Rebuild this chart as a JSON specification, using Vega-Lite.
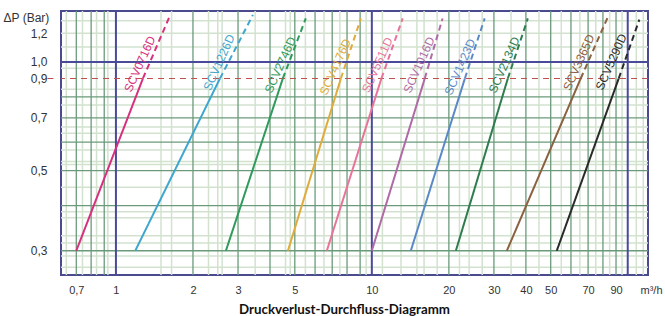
{
  "$schema": "https://vega.github.io/schema/vega-lite/v6.json",
  "autosize": "none",
  "width": 587,
  "height": 264,
  "padding": {"left": 61, "top": 11, "right": 17, "bottom": 41},
  "background": "white",
  "config": {
    "view": {"stroke": "#4a4a8e", "strokeWidth": 2},
    "font": "Liberation Sans"
  },
  "datasets": {
    "vgrid": [
      {"q": 0.64, "kind": "light"}, {"q": 0.74, "kind": "light"}, {"q": 0.84, "kind": "light"}, {"q": 0.93, "kind": "light"},
      {"q": 1.5, "kind": "light"}, {"q": 1.65, "kind": "light"}, {"q": 2.3, "kind": "light"}, {"q": 2.5, "kind": "light"},
      {"q": 2.6, "kind": "light"}, {"q": 3.5, "kind": "light"}, {"q": 4.6, "kind": "light"}, {"q": 4.8, "kind": "light"},
      {"q": 5.5, "kind": "light"}, {"q": 6.5, "kind": "light"}, {"q": 7.5, "kind": "light"}, {"q": 9.5, "kind": "light"},
      {"q": 11, "kind": "light"}, {"q": 13, "kind": "light"}, {"q": 15, "kind": "light"}, {"q": 16, "kind": "light"},
      {"q": 18, "kind": "light"}, {"q": 22, "kind": "light"}, {"q": 24, "kind": "light"}, {"q": 27, "kind": "light"},
      {"q": 35, "kind": "light"}, {"q": 45, "kind": "light"}, {"q": 55, "kind": "light"}, {"q": 65, "kind": "light"},
      {"q": 75, "kind": "light"}, {"q": 85, "kind": "light"}, {"q": 95, "kind": "light"}, {"q": 108, "kind": "light"},
      {"q": 115, "kind": "light"},
      {"q": 0.7, "kind": "dark"}, {"q": 0.8, "kind": "dark"}, {"q": 0.9, "kind": "dark"},
      {"q": 2, "kind": "dark"}, {"q": 3, "kind": "dark"}, {"q": 4, "kind": "dark"}, {"q": 5, "kind": "dark"},
      {"q": 6, "kind": "dark"}, {"q": 7, "kind": "dark"}, {"q": 8, "kind": "dark"}, {"q": 9, "kind": "dark"},
      {"q": 20, "kind": "dark"}, {"q": 30, "kind": "dark"}, {"q": 40, "kind": "dark"}, {"q": 50, "kind": "dark"},
      {"q": 60, "kind": "dark"}, {"q": 70, "kind": "dark"}, {"q": 80, "kind": "dark"}, {"q": 90, "kind": "dark"},
      {"q": 1, "kind": "blue"}, {"q": 10, "kind": "blue"}, {"q": 100, "kind": "blue"}
    ],
    "hgrid": [
      {"p": 0.27, "kind": "light"}, {"p": 0.29, "kind": "light"}, {"p": 0.315, "kind": "light"}, {"p": 0.33, "kind": "light"},
      {"p": 0.37, "kind": "light"}, {"p": 0.385, "kind": "light"}, {"p": 0.45, "kind": "light"}, {"p": 0.52, "kind": "light"},
      {"p": 0.53, "kind": "light"}, {"p": 0.57, "kind": "light"}, {"p": 0.635, "kind": "light"}, {"p": 0.66, "kind": "light"},
      {"p": 0.76, "kind": "light"}, {"p": 0.84, "kind": "light"}, {"p": 0.96, "kind": "light"}, {"p": 1.1, "kind": "light"},
      {"p": 1.2, "kind": "light"}, {"p": 1.3, "kind": "light"},
      {"p": 0.3, "kind": "dark"}, {"p": 0.4, "kind": "dark"}, {"p": 0.5, "kind": "dark"}, {"p": 0.6, "kind": "dark"},
      {"p": 0.7, "kind": "dark"}, {"p": 0.8, "kind": "dark"},
      {"p": 1.0, "kind": "blue"},
      {"p": 0.9, "kind": "red"}
    ],
    "curves": [
      {"model": "SCV0716D", "seg": "solid", "q": 0.70, "p": 0.3}, {"model": "SCV0716D", "seg": "solid", "q": 1.275, "p": 0.9},
      {"model": "SCV0716D", "seg": "dashed", "q": 1.275, "p": 0.9}, {"model": "SCV0716D", "seg": "dashed", "q": 1.63, "p": 1.35},
      {"model": "SCV1226D", "seg": "solid", "q": 1.19, "p": 0.3}, {"model": "SCV1226D", "seg": "solid", "q": 2.55, "p": 0.9},
      {"model": "SCV1226D", "seg": "dashed", "q": 2.55, "p": 0.9}, {"model": "SCV1226D", "seg": "dashed", "q": 3.43, "p": 1.35},
      {"model": "SCV2746D", "seg": "solid", "q": 2.69, "p": 0.3}, {"model": "SCV2746D", "seg": "solid", "q": 4.49, "p": 0.9},
      {"model": "SCV2746D", "seg": "dashed", "q": 4.49, "p": 0.9}, {"model": "SCV2746D", "seg": "dashed", "q": 5.52, "p": 1.32},
      {"model": "SCV4176D", "seg": "solid", "q": 4.70, "p": 0.3}, {"model": "SCV4176D", "seg": "solid", "q": 7.57, "p": 0.9},
      {"model": "SCV4176D", "seg": "dashed", "q": 7.57, "p": 0.9}, {"model": "SCV4176D", "seg": "dashed", "q": 9.06, "p": 1.32},
      {"model": "SCV5511D", "seg": "solid", "q": 6.67, "p": 0.3}, {"model": "SCV5511D", "seg": "solid", "q": 10.9, "p": 0.9},
      {"model": "SCV5511D", "seg": "dashed", "q": 10.9, "p": 0.9}, {"model": "SCV5511D", "seg": "dashed", "q": 13.2, "p": 1.32},
      {"model": "SCV1016D", "seg": "solid", "q": 10.0, "p": 0.3}, {"model": "SCV1016D", "seg": "solid", "q": 16.1, "p": 0.9},
      {"model": "SCV1016D", "seg": "dashed", "q": 16.1, "p": 0.9}, {"model": "SCV1016D", "seg": "dashed", "q": 18.9, "p": 1.32},
      {"model": "SCV1423D", "seg": "solid", "q": 14.2, "p": 0.3}, {"model": "SCV1423D", "seg": "solid", "q": 23.1, "p": 0.9},
      {"model": "SCV1423D", "seg": "dashed", "q": 23.1, "p": 0.9}, {"model": "SCV1423D", "seg": "dashed", "q": 27.6, "p": 1.32},
      {"model": "SCV2134D", "seg": "solid", "q": 21.3, "p": 0.3}, {"model": "SCV2134D", "seg": "solid", "q": 34.0, "p": 0.9},
      {"model": "SCV2134D", "seg": "dashed", "q": 34.0, "p": 0.9}, {"model": "SCV2134D", "seg": "dashed", "q": 40.7, "p": 1.32},
      {"model": "SCV3365D", "seg": "solid", "q": 33.7, "p": 0.3}, {"model": "SCV3365D", "seg": "solid", "q": 65.5, "p": 0.9},
      {"model": "SCV3365D", "seg": "dashed", "q": 65.5, "p": 0.9}, {"model": "SCV3365D", "seg": "dashed", "q": 84.3, "p": 1.35},
      {"model": "SCV5290D", "seg": "solid", "q": 52.8, "p": 0.3}, {"model": "SCV5290D", "seg": "solid", "q": 92.2, "p": 0.9},
      {"model": "SCV5290D", "seg": "dashed", "q": 92.2, "p": 0.9}, {"model": "SCV5290D", "seg": "dashed", "q": 111, "p": 1.31}
    ],
    "labels": [
      {"model": "SCV0716D", "q": 1.24, "p": 0.987},
      {"model": "SCV1226D", "q": 2.53, "p": 0.997},
      {"model": "SCV2746D", "q": 4.39, "p": 0.981},
      {"model": "SCV4176D", "q": 7.2, "p": 0.969},
      {"model": "SCV5511D", "q": 10.5, "p": 0.981},
      {"model": "SCV1016D", "q": 15.3, "p": 0.981},
      {"model": "SCV1423D", "q": 22.1, "p": 0.969},
      {"model": "SCV2134D", "q": 32.9, "p": 0.981},
      {"model": "SCV3365D", "q": 64.4, "p": 0.997},
      {"model": "SCV5290D", "q": 86.2, "p": 1.0}
    ]
  },
  "encoding": {
    "x": {
      "field": "q", "type": "quantitative",
      "scale": {"type": "log", "domain": [0.61, 120], "nice": false, "zero": false},
      "axis": {
        "values": [0.7, 1, 2, 3, 5, 10, 20, 30, 40, 50, 70, 90, 120],
        "labelExpr": "datum.value == 120 ? 'm³/h' : replace(toString(datum.value), '.', ',')",
        "grid": false, "domain": false, "ticks": false, "tickSize": 0,
        "labelPadding": 9, "labelFontSize": 11, "labelColor": "#333333",
        "labelFont": "Liberation Sans", "labelFlush": false, "labelOverlap": false, "labelBound": false,
        "labelOffset": {"condition": {"test": "datum.value == 120", "value": 3}, "value": 0},
        "title": "Druckverlust-Durchfluss-Diagramm",
        "titleFont": "Lato", "titleFontWeight": "bold", "titleFontSize": 13.3, "titleColor": "#111111",
        "titleX": 283, "titleY": 34, "titleAlign": "center", "titleBaseline": "middle", "titleAnchor": "start"
      }
    },
    "y": {
      "field": "p", "type": "quantitative",
      "scale": {"type": "log", "domain": [0.257, 1.384], "nice": false, "zero": false},
      "axis": {
        "values": [0.3, 0.5, 0.7, 0.9, 1.0, 1.2],
        "labelExpr": "replace(format(datum.value, '.1f'), '.', ',')",
        "grid": false, "domain": false, "ticks": true, "tickSize": 14,
        "tickColor": {"condition": {"test": "datum.value == 0.9", "value": "#c0504d"}, "value": "transparent"},
        "tickDash": [0, 8, 6],
        "tickWidth": 1.2,
        "labelPadding": 0, "labelFontSize": 12, "labelColor": "#333333",
        "labelFont": "Liberation Sans", "labelFlush": false, "labelOverlap": false,
        "title": "ΔP (Bar)", "titleAngle": 0, "titleFont": "Liberation Sans", "titleFontWeight": "normal",
        "titleFontSize": 12, "titleColor": "#333333",
        "titleX": -58, "titleY": 6, "titleAlign": "left", "titleBaseline": "middle", "titleAnchor": "start"
      }
    }
  },
  "layer": [
    {
      "data": {"name": "vgrid"},
      "transform": [{"filter": "datum.kind == 'light'"}],
      "mark": {"type": "rule", "color": "#d2e2cf", "strokeWidth": 1.5},
      "encoding": {"y": null}
    },
    {
      "data": {"name": "hgrid"},
      "transform": [{"filter": "datum.kind == 'light'"}],
      "mark": {"type": "rule", "color": "#d2e2cf", "strokeWidth": 1.5},
      "encoding": {"x": null}
    },
    {
      "data": {"name": "vgrid"},
      "transform": [{"filter": "datum.kind == 'dark'"}],
      "mark": {"type": "rule", "color": "#6b9a7b", "strokeWidth": 1.3},
      "encoding": {"y": null}
    },
    {
      "data": {"name": "hgrid"},
      "transform": [{"filter": "datum.kind == 'dark'"}],
      "mark": {"type": "rule", "color": "#6b9a7b", "strokeWidth": 1.3},
      "encoding": {"x": null}
    },
    {
      "data": {"name": "vgrid"},
      "transform": [{"filter": "datum.kind == 'blue'"}],
      "mark": {"type": "rule", "color": "#4a4a9a", "strokeWidth": 2},
      "encoding": {"y": null}
    },
    {
      "data": {"name": "hgrid"},
      "transform": [{"filter": "datum.kind == 'blue'"}],
      "mark": {"type": "rule", "color": "#4a4a9a", "strokeWidth": 2},
      "encoding": {"x": null}
    },
    {
      "data": {"name": "hgrid"},
      "transform": [{"filter": "datum.kind == 'red'"}],
      "mark": {"type": "rule", "color": "#c0504d", "strokeWidth": 1.2, "strokeDash": [6, 5]},
      "encoding": {"x": null}
    },
    {
      "data": {"name": "curves"},
      "mark": {"type": "line", "strokeWidth": 2},
      "encoding": {
        "color": {
          "field": "model", "type": "nominal", "legend": null,
          "scale": {
            "domain": ["SCV0716D", "SCV1226D", "SCV2746D", "SCV4176D", "SCV5511D", "SCV1016D", "SCV1423D", "SCV2134D", "SCV3365D", "SCV5290D"],
            "range": ["#d6307f", "#3ea6cf", "#2f9a5b", "#e0ab3a", "#e8749a", "#b06aa6", "#5b89c8", "#2f7d4e", "#8b6142", "#2a2a2a"]
          }
        },
        "strokeDash": {
          "field": "seg", "type": "nominal", "legend": null,
          "scale": {"domain": ["solid", "dashed"], "range": [[1, 0], [6, 4]]}
        }
      }
    },
    {
      "data": {"name": "labels"},
      "mark": {"type": "text", "angle": -66, "fontSize": 12, "font": "Liberation Sans", "align": "center", "baseline": "middle"},
      "encoding": {
        "text": {"field": "model"},
        "color": {"field": "model", "type": "nominal", "legend": null}
      }
    }
  ]
}
